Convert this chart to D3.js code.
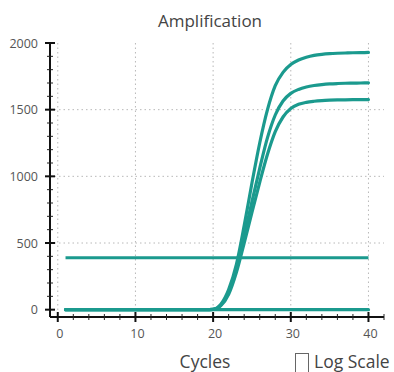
<!DOCTYPE html>
<html>
<head>
<meta charset="utf-8">
<script src="https://cdn.jsdelivr.net/npm/d3@7"></script>
<style>
  body { margin: 0; background: #fff; font-family: "Open Sans", sans-serif; }
  svg { display: block; }
  .grid line { stroke: #b8b8b8; stroke-dasharray: 1.5 3; }
  .tick-label { fill: #555; font-size: 12.5px; }
</style>
</head>
<body>
<svg id="chart" width="394" height="372"></svg>
<script>
'use strict';

// cycles 1..40
const cycles = d3.range(1, 41);

// fluorescence readings per cycle
const wellA = [0, 0, 0, 0, 0, 0, 0, 0, 0, 0, 0, 0, 0, 0, 0, 0, 0, 0, 0, 2,
  40, 150, 340, 630, 950, 1250, 1500, 1680, 1780, 1838,
  1872, 1893, 1907, 1915, 1920, 1923, 1925, 1927, 1928, 1929];
const wellB = [0, 0, 0, 0, 0, 0, 0, 0, 0, 0, 0, 0, 0, 0, 0, 0, 0, 0, 0, 2,
  35, 130, 310, 550, 810, 1060, 1290, 1460, 1565, 1622,
  1652, 1670, 1681, 1688, 1693, 1696, 1698, 1699, 1700, 1701];
const wellC = [0, 0, 0, 0, 0, 0, 0, 0, 0, 0, 0, 0, 0, 0, 0, 0, 0, 0, 0, 2,
  30, 115, 280, 500, 730, 955, 1165, 1335, 1445, 1508,
  1540, 1555, 1563, 1568, 1571, 1573, 1574, 1575, 1576, 1576];
const baseline = cycles.map(() => 0);
const threshold = 390;

const xTicks = [0, 10, 20, 30, 40];
const yTicks = [0, 500, 1000, 1500, 2000];

const teal = '#1b9a8e';
const svg = d3.select('#chart');

const x = d3.scaleLinear().domain([-1, 42]).range([50, 384]);
const y = d3.scaleLinear().domain([-55, 2000]).range([317, 43]);

// title
svg.append('text')
  .attr('x', 210).attr('y', 27)
  .attr('text-anchor', 'middle')
  .attr('fill', '#444')
  .attr('font-size', 17)
  .text('Amplification');

// grid
const grid = svg.append('g').attr('class', 'grid');
grid.selectAll('line.v').data(xTicks).join('line')
  .attr('class', 'v')
  .attr('x1', d => x(d)).attr('x2', d => x(d))
  .attr('y1', y(2000)).attr('y2', y.range()[0]);
grid.selectAll('line.h').data(yTicks.filter(d => d > 0 && d < 2000)).join('line')
  .attr('class', 'h')
  .attr('x1', x.range()[0]).attr('x2', x.range()[1])
  .attr('y1', d => y(d)).attr('y2', d => y(d));

// axes: ticks crossing the line
const minorX = d3.range(0, 43, 2).filter(d => d % 10 !== 0);
const minorY = d3.range(0, 2001, 100).filter(d => d % 500 !== 0);

const xAxis = svg.append('g').attr('transform', `translate(0,${y.range()[0]})`);
xAxis.append('line')
  .attr('x1', x.range()[0]).attr('x2', x.range()[1])
  .attr('stroke', '#111').attr('stroke-width', 2);
xAxis.selectAll('line.minor').data(minorX).join('line')
  .attr('class', 'minor')
  .attr('x1', d => x(d)).attr('x2', d => x(d))
  .attr('y1', -3).attr('y2', 3)
  .attr('stroke', '#222').attr('stroke-width', 1);
xAxis.selectAll('line.major').data(xTicks).join('line')
  .attr('class', 'major')
  .attr('x1', d => x(d)).attr('x2', d => x(d))
  .attr('y1', -5).attr('y2', 5)
  .attr('stroke', '#111').attr('stroke-width', 2);
xAxis.selectAll('text').data(xTicks).join('text')
  .attr('class', 'tick-label')
  .attr('x', d => x(d) + 2).attr('y', 21)
  .attr('text-anchor', 'middle')
  .text(d => d);

const yAxis = svg.append('g').attr('transform', `translate(${x.range()[0]},0)`);
yAxis.append('line')
  .attr('y1', y(2000) - 1).attr('y2', y.range()[0])
  .attr('stroke', '#111').attr('stroke-width', 2);
yAxis.selectAll('line.minor').data(minorY).join('line')
  .attr('class', 'minor')
  .attr('y1', d => y(d)).attr('y2', d => y(d))
  .attr('x1', -3).attr('x2', 3)
  .attr('stroke', '#222').attr('stroke-width', 1);
yAxis.selectAll('line.major').data(yTicks).join('line')
  .attr('class', 'major')
  .attr('y1', d => y(d)).attr('y2', d => y(d))
  .attr('x1', -5).attr('x2', 5)
  .attr('stroke', '#111').attr('stroke-width', 2);
yAxis.selectAll('text').data(yTicks).join('text')
  .attr('class', 'tick-label')
  .attr('x', -12).attr('y', d => y(d) + 4.5)
  .attr('text-anchor', 'end')
  .text(d => d);

// threshold
svg.append('line')
  .attr('x1', x(1)).attr('x2', x(40))
  .attr('y1', y(threshold)).attr('y2', y(threshold))
  .attr('stroke', teal).attr('stroke-width', 3);

// curves
const line = d3.line()
  .x((d, i) => x(cycles[i]))
  .y(d => y(d))
  .curve(d3.curveMonotoneX);

svg.selectAll('path.curve').data([baseline, wellC, wellB, wellA]).join('path')
  .attr('class', 'curve')
  .attr('d', line)
  .attr('fill', 'none')
  .attr('stroke', teal)
  .attr('stroke-width', 3.2)
  .attr('stroke-linecap', 'round');

// footer
svg.append('text')
  .attr('x', 205).attr('y', 368)
  .attr('text-anchor', 'middle')
  .attr('fill', '#444')
  .attr('font-size', 17.5)
  .text('Cycles');

svg.append('rect')
  .attr('x', 295.5).attr('y', 353.5)
  .attr('width', 13).attr('height', 20)
  .attr('fill', '#fff')
  .attr('stroke', '#666').attr('stroke-width', 1);

svg.append('text')
  .attr('x', 314).attr('y', 368)
  .attr('fill', '#444')
  .attr('font-size', 17.5)
  .text('Log Scale');
</script>
</body>
</html>
